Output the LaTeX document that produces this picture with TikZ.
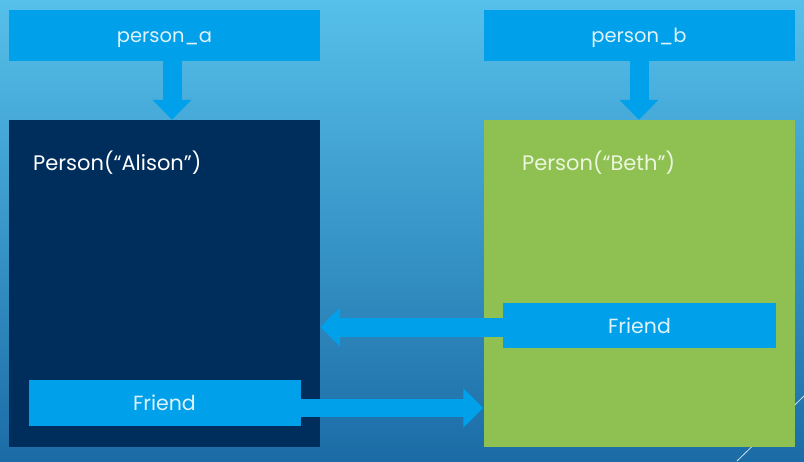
\documentclass[tikz,border=0pt]{standalone}
\usepackage{fontspec}
\setmainfont{Poppins}
\usetikzlibrary{arrows.meta}
\definecolor{bgtop}{RGB}{86,192,234}
\definecolor{bgbot}{RGB}{27,108,166}
\definecolor{boxblue}{RGB}{0,160,234}
\definecolor{navy}{RGB}{0,46,92}
\definecolor{leaf}{RGB}{143,193,82}
\definecolor{paletext}{RGB}{222,242,250}
\definecolor{greentext}{RGB}{236,246,222}
\tikzset{
  varbox/.style={fill=boxblue, minimum width=311pt, minimum height=51pt, inner sep=0pt,
    text=paletext, font=\fontsize{19.5pt}{22pt}\selectfont},
  objbox/.style={minimum width=311pt, minimum height=327pt, inner sep=0pt},
  friendbox/.style={fill=boxblue, inner sep=0pt, text=paletext, font=\fontsize{20.5pt}{24pt}\selectfont},
  objlabel/.style={anchor=west, inner sep=0pt, font=\fontsize{21pt}{24pt}\selectfont},
  blockarrow/.style={draw=boxblue, line width=19pt,
    -{Triangle[width=38pt,length=20pt,fill=boxblue]}},
}
\begin{document}
\begin{tikzpicture}[x=1pt,y=-1pt]
  \shade[top color=bgtop, bottom color=bgbot] (0,0) rectangle (804,461);
  \useasboundingbox (0,0) rectangle (804,461);
  \draw[white!80!bgbot, line width=0.8pt] (737,461) -- (804,396);
  % variable boxes
  \node[varbox] (pa) at (164.5,35.5) {\raisebox{-7pt}[0pt][0pt]{person\_a}};
  \node[varbox] (pb) at (639,35.5) {\raisebox{-7pt}[0pt][0pt]{person\_b}};
  % object boxes
  \node[objbox, fill=navy] (alison) at (164.5,283.5) {};
  \node[objbox, fill=leaf] (beth) at (639,283.5) {};
  \node[objlabel, text=white] (alabel) at (33,162.5) {Person(“Alison”)};
  \node[objlabel, text=greentext] (blabel) at (522,162.5) {Person(“Beth”)};
  % friend boxes
  \node[friendbox, minimum width=272pt, minimum height=46pt] (fa) at (164.5,403) {Friend};
  \node[friendbox, minimum width=273pt, minimum height=45pt] (fb) at (639.5,325.5) {Friend};
  % arrows
  \draw[blockarrow] ([xshift=7.5pt]pa.south) -- ([xshift=7.5pt]alison.north);
  \draw[blockarrow] (pb.south) -- (beth.north);
  \draw[blockarrow] ([yshift=-1.5pt]fb.west) -- ([yshift=-1.5pt]fb.west -| alison.east);
  \draw[blockarrow, line width=18pt] ([yshift=-5pt]fa.east) -- ([yshift=-5pt]fa.east -| beth.west);
\end{tikzpicture}
\end{document}
